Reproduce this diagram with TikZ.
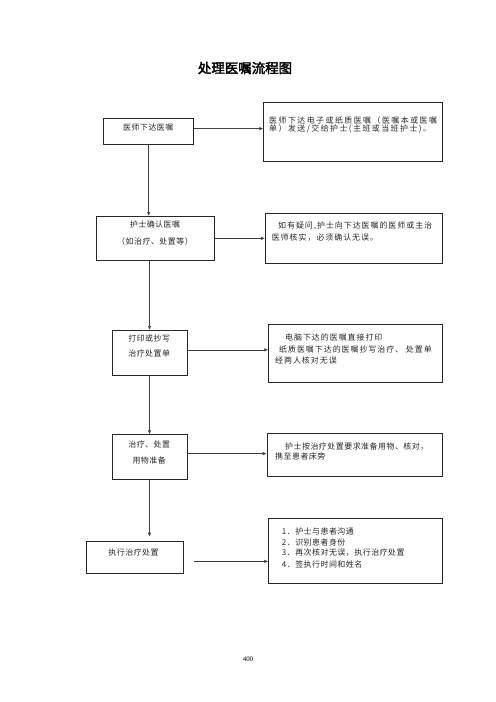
\documentclass[tikz,border=0pt]{standalone}
\usepackage{fontspec}
\usetikzlibrary{arrows.meta,calc}
\newfontfamily\cjka[LetterSpace=6]{Noto Sans CJK SC}
\newfontfamily\cjkb[LetterSpace=12]{Noto Sans CJK SC}
\newfontfamily\cjkc[LetterSpace=18]{Noto Sans CJK SC}
\newfontfamily\cjkt[FakeBold=2.5]{Noto Sans CJK SC}
\newfontfamily\numfont{Liberation Serif}
\tikzset{
  box/.style={draw=black!85, line width=0.7bp, rectangle, inner sep=0pt, anchor=north west},
  ltxt/.style={inner sep=0pt, font=\cjka\fontsize{8}{10}\selectfont, text=black!85},
  rtxt/.style={inner sep=0pt, anchor=west, font=\cjka\fontsize{8}{10}\selectfont, text=black!85},
  conn/.style={draw=black!75, line width=0.7bp, -{Latex[length=4bp,width=3.5bp]}}
}
\begin{document}
\begin{tikzpicture}[x=1bp,y=-1bp]
\useasboundingbox (0,0) rectangle (496,702);
% title
\node[inner sep=0pt, font=\cjkt\fontsize{13.5}{15}\selectfont] (title) at (245,68) {处理医嘱流程图};
% left boxes
\node[box, minimum width=90bp, minimum height=26bp] (b1) at (103.3,118.3) {};
\node[box, minimum width=118bp, minimum height=44bp] (b2) at (96,216) {};
\node[box, minimum width=75bp, minimum height=45bp] (b3) at (111.7,330) {};
\node[box, minimum width=75bp, minimum height=45bp] (b4) at (111.7,434.3) {};
\node[box, minimum width=97.3bp, minimum height=32.6bp] (b5) at (86,540.7) {};
% right boxes
\node[box, minimum width=178.4bp, minimum height=59.3bp] (r1) at (263.3,101.7) {};
\node[box, minimum width=177.3bp, minimum height=50.6bp] (r2) at (265,212.7) {};
\node[box, minimum width=173.4bp, minimum height=58.5bp] (r3) at (268.3,323.5) {};
\node[box, minimum width=175bp, minimum height=42.8bp] (r4) at (266.7,432.7) {};
\node[box, minimum width=173.4bp, minimum height=65bp] (r5) at (268.3,518.3) {};
% left texts
\node[ltxt] (t1) at (148.3,127.5) {医师下达医嘱};
\node[ltxt] (t2a) at (155,224.5) {护士确认医嘱};
\node[ltxt] (t2b) at (155,241.7) {（如治疗、处置等）};
\node[ltxt] (t3a) at (149.2,338.5) {打印或抄写};
\node[ltxt] (t3b) at (149.2,353.5) {治疗处置单};
\node[ltxt] (t4a) at (149.2,444.2) {治疗、处置};
\node[ltxt] (t4b) at (149.2,460) {用物准备};
\node[ltxt] (t5) at (133.5,552.7) {执行治疗处置};
% right texts
\node[rtxt, font=\cjkc\fontsize{8}{10}\selectfont] (s1a) at (269,120) {医师下达电子或纸质医嘱（医嘱本或医嘱};
\node[rtxt, font=\cjkc\fontsize{8}{10}\selectfont] (s1b) at (269,128.8) {单）发送/交给护士(主班或当班护士)。};
\node[rtxt, font=\cjkb\fontsize{8}{10}\selectfont] (s2a) at (278,226) {如有疑问,护士向下达医嘱的医师或主治};
\node[rtxt, font=\cjkb\fontsize{8}{10}\selectfont] (s2b) at (271.7,237.5) {医师核实，必须确认无误。};
\node[rtxt, font=\cjkb\fontsize{8}{10}\selectfont] (s3a) at (285,337) {电脑下达的医嘱直接打印};
\node[rtxt, font=\cjkb\fontsize{8}{10}\selectfont] (s3b) at (279,349) {纸质医嘱下达的医嘱抄写治疗、 处置单};
\node[rtxt, font=\cjkb\fontsize{8}{10}\selectfont] (s3c) at (275,360.8) {经两人核对无误};
\node[rtxt] (s4a) at (285,446.7) {护士按治疗处置要求准备用物、核对，};
\node[rtxt] (s4b) at (275,456.8) {携至患者床旁};
\node[rtxt] (s5a) at (281.7,531.7) {1．护士与患者沟通};
\node[rtxt] (s5b) at (281.7,542.3) {2．识别患者身份};
\node[rtxt] (s5c) at (281.7,552.8) {3．再次核对无误，执行治疗处置};
\node[rtxt] (s5d) at (281.7,564) {4．签执行时间和姓名};
% page number
\node[inner sep=0pt, font=\numfont\fontsize{7}{8}\selectfont] (pg) at (248,659) {400};
% connectors
\coordinate (c1) at ([yshift=3bp]b1.east);
\coordinate (c3) at ([yshift=3bp]b3.east);
\coordinate (c4) at ([yshift=3.5bp]b4.east);
\coordinate (c5) at ([xshift=10bp,yshift=-4bp]b5.east);
\draw[conn] (c1) -- (r1.west |- c1);
\draw[conn] (b1.south) -- (b2.north -| b1.south);
\draw[conn] (b2.east) -- (r2.west |- b2.east);
\draw[conn] (b2.south -| b3.north) -- (b3.north);
\draw[conn] (c3) -- (r3.west |- c3);
\draw[conn] (b3.south) -- (b4.north);
\draw[conn] (c4) -- (r4.west |- c4);
\draw[conn, shorten >=4bp] (b4.south) -- (b5.north -| b4.south);
\draw[conn] (c5) -- (r5.west |- c5);
\end{tikzpicture}
\end{document}
